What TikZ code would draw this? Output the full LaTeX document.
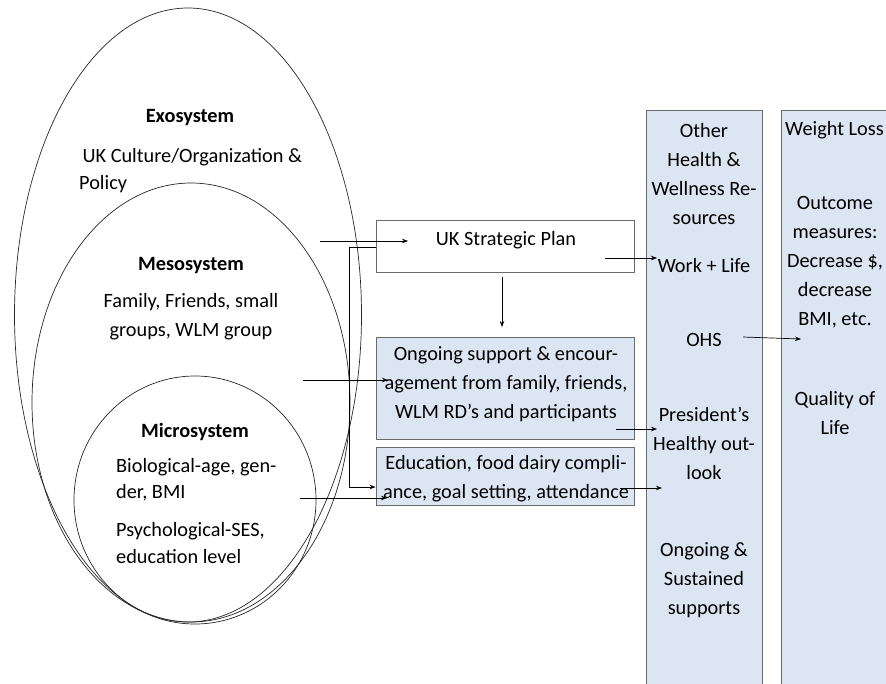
\documentclass[tikz,border=0pt]{standalone}
\usepackage{fontspec}
\setmainfont{Carlito}
\usetikzlibrary{arrows.meta,shapes.geometric}
\definecolor{boxblue}{HTML}{DCE6F2}
\definecolor{edge}{HTML}{6A6A6A}
\begin{document}
\begin{tikzpicture}[x=1pt,y=-1pt,
  txt/.style={font=\fontsize{20.3}{29}\selectfont, align=center, inner sep=0pt},
  btxt/.style={font=\fontsize{20.3}{29}\selectfont\bfseries, inner sep=0pt},
  ltxt/.style={font=\fontsize{20.3}{27}\selectfont, align=left, inner sep=0pt, anchor=west},
  whitebox/.style={draw=edge, line width=0.8pt, fill=white, inner sep=0pt},
  bluebox/.style={draw=edge, line width=0.8pt, fill=boxblue, inner sep=0pt},
  ring/.style={draw=black!85, line width=0.7pt},
  arr/.style={draw=black, line width=0.7pt, -{Stealth[length=6pt,width=4.5pt]}}]
\useasboundingbox (0,0) rectangle (886,683);
\begin{scope}
\clip (0,0) rectangle (886,683);
% ellipses
\node[ring, ellipse, minimum width=347pt, minimum height=614pt, inner sep=0pt] (exo) at (188,315) {};
\node[ring, ellipse, minimum width=318pt, minimum height=439pt, inner sep=0pt] (meso) at (191,402.5) {};
\node[ring, ellipse, minimum width=242pt, minimum height=248pt, inner sep=0pt] (micro) at (195,500) {};
% boxes
\node[whitebox, minimum width=258pt, minimum height=52pt] (plan) at (505,246) {};
\node[bluebox, minimum width=258pt, minimum height=102pt] (supp) at (505,388) {};
\node[bluebox, minimum width=258pt, minimum height=58pt] (edu) at (505,476) {};
\node[bluebox, minimum width=116pt, minimum height=585pt] (res) at (704,402.5) {};
\node[bluebox, minimum width=112pt, minimum height=585pt] (wl) at (837,402.5) {};
\end{scope}
% ellipse texts
\node[btxt] (exoT) at (190,118) {Exosystem};
\node[ltxt] (exoD) at (79,170.5) {\,UK Culture/Organization \&\\Policy};
\node[btxt] (mesoT) at (191,266) {Mesosystem};
\node[txt] (mesoD) at (191,316.5) {Family, Friends, small\\groups, WLM group};
\node[btxt] (microT) at (195,432) {Microsystem};
\node[ltxt, font=\fontsize{20.3}{26}\selectfont] (microB) at (116,480) {Biological-age, gen-\\der, BMI};
\node[ltxt] (microP) at (116,543.5) {Psychological-SES,\\education level};
% box texts
\node[txt] (planT) at (506,240) {UK Strategic Plan};
\node[txt] (suppT) at (506,384) {Ongoing support \& encour-\\agement from family, friends,\\WLM RD’s and participants};
\node[txt] (eduT) at (506,478.5) {Education, food dairy compli-\\ance, goal setting, attendance};
% column 1
\node[txt] (r1) at (704,174) {Other\\Health \&\\Wellness Re-\\sources};
\node[txt] (r2) at (704,266) {Work + Life};
\node[txt] (r3) at (704,340) {OHS};
\node[txt] (r4) at (704,443) {President's\\Healthy out-\\look};
\node[txt] (r5) at (704,580) {Ongoing \&\\Sustained\\supports};
% column 2
\node[txt, anchor=west] (w1) at (785,130) {Weight Loss};
\node[txt] (w2) at (835,262) {Outcome\\measures:\\Decrease \$,\\decrease\\BMI, etc.};
\node[txt] (w3) at (835,413.5) {Quality of\\Life};
% connector endpoints
\coordinate (a1s) at (320,241);
\coordinate (a1e) at (408,241);
\coordinate (a4s) at (303,380);
\coordinate (a4e) at (388,380);
\coordinate (a5s) at (300,498);
\coordinate (a5e) at (387,498);
\coordinate (a6s) at (605,258);
\coordinate (a6e) at (657,258);
\coordinate (a7s) at (616,429);
\coordinate (a7e) at (657,429);
\coordinate (a8s) at (620,488);
\coordinate (a8e) at (662,488);
\coordinate (a9s) at (743,337);
\coordinate (a9e) at (801,339);
\coordinate (dS) at (502,277);
\coordinate (dE) at (502,327);
\coordinate (elb) at (349,247);
\coordinate (elbB) at (349,487);
% connectors
\draw[arr] (a1s) -- (a1e);
\draw[arr] (plan.west |- elb) -- (elb) -- (elbB) -- (edu.west |- elbB);
\draw[arr] (dS) -- (dE);
\draw[arr] (a4s) -- (a4e);
\draw[arr] (a5s) -- (a5e);
\draw[arr] (a6s) -- (a6e);
\draw[arr] (a7s) -- (a7e);
\draw[arr] (a8s) -- (a8e);
\draw[arr] (a9s) -- (a9e);
\end{tikzpicture}
\end{document}
